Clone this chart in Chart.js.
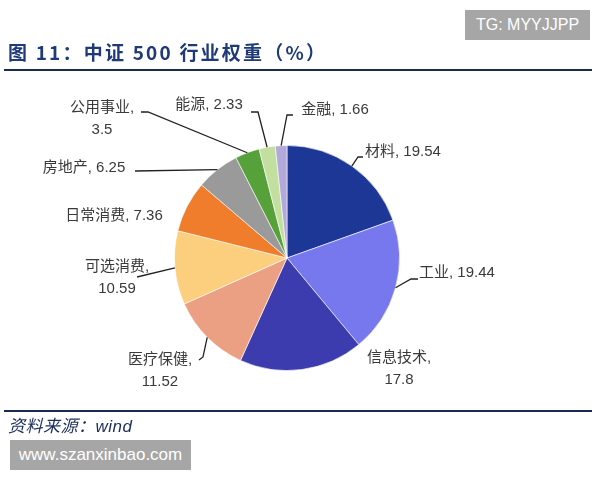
<!DOCTYPE html>
<html><head><meta charset="utf-8">
<script src="https://cdn.jsdelivr.net/npm/chart.js@4/dist/chart.umd.min.js"></script>
<style>
html,body{margin:0;padding:0;background:#fff;}
#wrap{position:relative;width:600px;height:480px;overflow:hidden;background:#fff;}
#c{position:absolute;left:0;top:0;}
.t{position:absolute;white-space:nowrap;}
#title{left:8px;top:40px;font:bold 19px "Noto Sans CJK SC","Liberation Sans",sans-serif;color:#1f3a78;letter-spacing:2.2px;line-height:24px;}
#rule1{left:4px;top:69px;width:588px;height:2px;background:#1b2b4f;}
#rule2{left:4px;top:410px;width:588px;height:2px;background:#1b2b4f;}
#src{left:8px;top:416px;font:italic 17px "Liberation Sans","Noto Sans CJK SC",sans-serif;color:#1f3060;line-height:22px;letter-spacing:0.5px;}
#tg{left:465px;top:10px;width:125px;height:30px;background:#a6a6a6;color:#fff;font:16px "Liberation Sans",sans-serif;line-height:30px;text-align:center;}
#www{left:10px;top:440px;width:181px;height:30px;background:#a6a6a6;color:#fff;font:17px "Liberation Sans",sans-serif;line-height:30px;text-align:center;}
</style></head>
<body><div id="wrap">
<canvas id="c" width="600" height="480"></canvas>
<div class="t" id="title">图 11：中证 500 行业权重（%）</div>
<div class="t" id="rule1"></div>
<div class="t" id="tg">TG: MYYJJPP</div>
<div class="t" id="rule2"></div>
<div class="t" id="src">资料来源：wind</div>
<div class="t" id="www">www.szanxinbao.com</div>
</div>
<script>
const categories = ['材料','工业','信息技术','医疗保健','可选消费','日常消费','房地产','公用事业','能源','金融'];
const weights = [19.54, 19.44, 17.8, 11.52, 10.59, 7.36, 6.25, 3.5, 2.33, 1.66];
const colors = ['#1d3796','#7878ee','#3c3caf','#eba083','#fbcf7e','#ef7d2c','#9a9a9a','#56a13a','#c2dfa0','#b3a9d9'];

// label layout: text anchor (x,y,align), line break flag, leader elbow points (from label towards slice)
const labelLayout = [
  {x:365, y:152, align:'left',   split:false, leader:[[363,157],[358,157]]},
  {x:419, y:273, align:'left',   split:false, leader:[[418,279],[411,279]]},
  {x:399, y:358, align:'center', split:true,  leader:null},
  {x:160, y:360, align:'center', split:true,  leader:[[199,360],[203,357]]},
  {x:117, y:267, align:'center', split:true,  leader:[[137,277]]},
  {x:114, y:216, align:'center', split:false, leader:null},
  {x:84,  y:168, align:'center', split:false, leader:[[135,171]]},
  {x:102, y:108, align:'center', split:true,  leader:[[141,112],[148,112]]},
  {x:209, y:105, align:'center', split:false, leader:[[251,112],[258,112]]},
  {x:335, y:110, align:'center', split:false, leader:[[293,115],[287,115]]}
];

const labelPlugin = {
  id:'pieLabels',
  afterDatasetsDraw(chart){
    const ctx = chart.ctx;
    const meta = chart.getDatasetMeta(0);
    ctx.save();
    meta.data.forEach((arc,i)=>{
      const p = arc.getProps(['x','y','startAngle','endAngle','outerRadius'],true);
      const mid = (p.startAngle+p.endAngle)/2;
      const ex = p.x + Math.cos(mid)*p.outerRadius;
      const ey = p.y + Math.sin(mid)*p.outerRadius;
      const L = labelLayout[i];
      if(L.leader){
        ctx.beginPath();
        ctx.strokeStyle='#222';
        ctx.lineWidth=1.3;
        ctx.moveTo(L.leader[0][0],L.leader[0][1]);
        for(let k=1;k<L.leader.length;k++) ctx.lineTo(L.leader[k][0],L.leader[k][1]);
        ctx.lineTo(ex,ey);
        ctx.stroke();
      }
      ctx.fillStyle='#3a3a3a';
      ctx.font='15px "Liberation Sans","Noto Sans CJK SC",sans-serif';
      ctx.textAlign=L.align;
      ctx.textBaseline='middle';
      const v = String(weights[i]);
      if(L.split){
        ctx.fillText(categories[i]+',',L.x,L.y);
        ctx.textAlign='center';
        const w = ctx.measureText(categories[i]+',').width;
        const cx = L.align==='left'? L.x + w/2 : L.x;
        ctx.fillText(v,cx,L.y+22);
      } else {
        ctx.fillText(categories[i]+', '+v,L.x,L.y);
      }
    });
    ctx.restore();
  }
};

new Chart(document.getElementById('c'),{
  type:'pie',
  data:{labels:categories,datasets:[{data:weights,backgroundColor:colors,borderColor:'rgba(255,255,255,0.6)',borderWidth:1}]},
  options:{
    responsive:false,animation:false,
    layout:{padding:{left:172,right:198,top:145,bottom:109}},
    plugins:{legend:{display:false},tooltip:{enabled:false}}
  },
  plugins:[labelPlugin]
});
</script>
</body></html>
